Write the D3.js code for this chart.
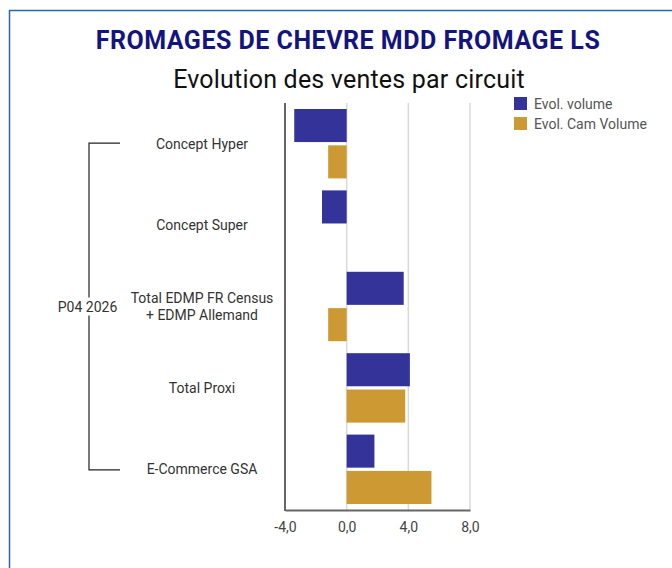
<!DOCTYPE html>
<html>
<head>
<meta charset="utf-8">
<script src="https://cdn.jsdelivr.net/npm/d3@7"></script>
<style>
  body { margin: 0; background: #fff; }
  svg { display: block; font-family: Roboto, "Noto Sans", sans-serif; }
</style>
</head>
<body>
<svg id="chart" width="672" height="568"></svg>
<script>
// chart values
const categories = ["Concept Hyper", "Concept Super", "Total EDMP FR Census + EDMP Allemand", "Total Proxi", "E-Commerce GSA"];
const categoryLines = [["Concept Hyper"], ["Concept Super"], ["Total EDMP FR Census", "+ EDMP Allemand"], ["Total Proxi"], ["E-Commerce GSA"]];
const seriesNames = ["Evol. volume", "Evol. Cam Volume"];
const evolVolume = [-3.4, -1.6, 3.7, 4.1, 1.8];
const evolCamVolume = [-1.2, null, -1.2, 3.8, 5.5];
const xTicks = [-4, 0, 4, 8];
const groupLabel = "P04 2026";

const colors = {"Evol. volume": "#333399", "Evol. Cam Volume": "#CC9933"};

const svg = d3.select("#chart");

// card border
svg.append("rect")
    .attr("x", 9.5).attr("y", 10.5)
    .attr("width", 700).attr("height", 600)
    .attr("fill", "none")
    .attr("stroke", "#2a66b0")
    .attr("stroke-width", 1.5);

svg.append("text")
    .attr("x", 348).attr("y", 48.5)
    .attr("text-anchor", "middle")
    .attr("font-size", 25).attr("font-weight", "bold")
    .attr("letter-spacing", 0.5)
    .attr("fill", "#14147e")
    .text("FROMAGES DE CHEVRE MDD FROMAGE LS");

svg.append("text")
    .attr("x", 349).attr("y", 88)
    .attr("text-anchor", "middle")
    .attr("font-size", 25)
    .attr("letter-spacing", 0.2)
    .attr("fill", "#111")
    .text("Evolution des ventes par circuit");

const rows = categories.map((c, i) => ({
    cat: c,
    lines: categoryLines[i],
    values: [
        {key: seriesNames[0], value: evolVolume[i]},
        {key: seriesNames[1], value: evolCamVolume[i]}
    ]
}));

const x = d3.scaleLinear().domain([-4, 8]).range([285, 470]);
const y = d3.scaleBand().domain(categories).range([103, 510]);
const y1 = d3.scaleBand().domain(seriesNames).range([6, y.step() - 6]).paddingInner(0.09);

// grid lines
svg.append("g")
    .selectAll("line")
    .data(xTicks.filter(t => t !== -4))
    .enter().append("line")
    .attr("x1", d => x(d)).attr("x2", d => x(d))
    .attr("y1", 103).attr("y2", 510)
    .attr("stroke", "#d9d9d9")
    .attr("stroke-width", 1.5);

// bars
const groups = svg.append("g")
    .selectAll("g")
    .data(rows)
    .enter().append("g")
    .attr("transform", d => `translate(0,${y(d.cat)})`);

groups.selectAll("rect")
    .data(d => d.values.filter(v => v.value !== null))
    .enter().append("rect")
    .attr("x", d => x(Math.min(0, d.value)))
    .attr("width", d => Math.abs(x(d.value) - x(0)))
    .attr("y", d => y1(d.key))
    .attr("height", y1.bandwidth())
    .attr("fill", d => colors[d.key]);

// axes
const xAxis = svg.append("g")
    .attr("transform", "translate(0,510)")
    .call(d3.axisBottom(x).tickValues(xTicks).tickSize(0).tickPadding(12)
        .tickFormat(d => d3.format(".1f")(d).replace(".", ",").replace("−", "-")));
xAxis.select(".domain").attr("stroke", "#666").attr("stroke-width", 2);
xAxis.selectAll("text").attr("font-size", 14).attr("fill", "#444")
    .attr("font-family", "Roboto, 'Noto Sans', sans-serif");

svg.append("line")
    .attr("x1", 285).attr("x2", 285)
    .attr("y1", 103).attr("y2", 511)
    .attr("stroke", "#666").attr("stroke-width", 2);

// category labels
const labels = svg.append("g")
    .selectAll("text")
    .data(rows)
    .enter().append("text")
    .attr("x", 202)
    .attr("text-anchor", "middle")
    .attr("font-size", 14)
    .attr("fill", "#333")
    .attr("y", d => y(d.cat) + y.bandwidth() / 2 - (d.lines.length - 1) * 8.8 + 5);

labels.selectAll("tspan")
    .data(d => d.lines)
    .enter().append("tspan")
    .attr("x", 202)
    .attr("dy", (d, i) => i === 0 ? 0 : 17.6)
    .text(d => d);

// group bracket
const bracketTop = y(categories[0]) + y.bandwidth() / 2 - 0.5;
const bracketBot = y(categories[categories.length - 1]) + y.bandwidth() / 2 + 0.5;
svg.append("path")
    .attr("d", `M120,${bracketTop}H89V${bracketBot}H120`)
    .attr("fill", "none")
    .attr("stroke", "#222")
    .attr("stroke-width", 1.2);

const gl = svg.append("g");
gl.append("rect")
    .attr("x", 55).attr("y", (bracketTop + bracketBot) / 2 - 9)
    .attr("width", 66).attr("height", 18)
    .attr("fill", "#fff");
gl.append("text")
    .attr("x", 87.5).attr("y", (bracketTop + bracketBot) / 2 + 5)
    .attr("text-anchor", "middle")
    .attr("font-size", 14)
    .attr("fill", "#333")
    .text(groupLabel);

// legend
const legend = svg.append("g")
    .selectAll("g")
    .data(seriesNames)
    .enter().append("g")
    .attr("transform", (d, i) => `translate(514,${97 + i * 20})`);
legend.append("rect")
    .attr("width", 13).attr("height", 13)
    .attr("fill", d => colors[d]);
legend.append("text")
    .attr("x", 20).attr("y", 11.5)
    .attr("font-size", 14)
    .attr("fill", "#555")
    .text(d => d);
</script>
</body>
</html>
